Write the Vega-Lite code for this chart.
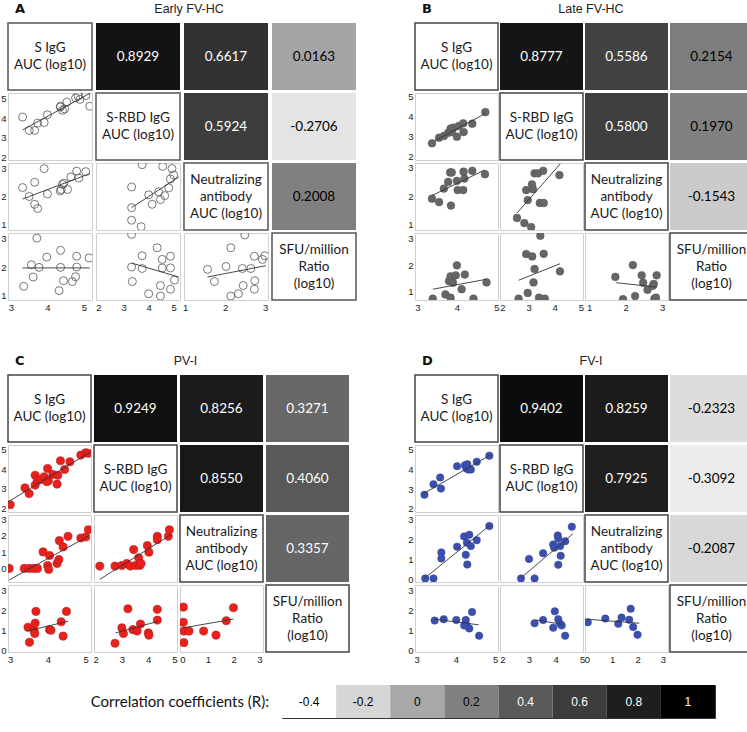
{
"$schema":"https://vega.github.io/schema/vega-lite/v6.json",
"background":"white",
"padding":{"left":0,"top":2,"right":0,"bottom":0},
"config":{"view":{"stroke":"#cfcfcf","strokeWidth":1},"axis":{"grid":false,"domain":false,"ticks":false,"labelFont":"Liberation Sans","labelFontSize":9.5,"labelColor":"#222","labelPadding":2,"labelFlush":false,"labelOverlap":false,"format":".0f"},"text":{"font":"Lato"}},
"datasets":{
"A21":[{"x":3.32,"y":4.06},{"x":3.5,"y":3.37},{"x":3.65,"y":3.37},{"x":3.73,"y":3.75},{"x":3.91,"y":3.78},{"x":4.0,"y":4.18},{"x":4.35,"y":4.58},{"x":4.41,"y":4.41},{"x":4.47,"y":4.48},{"x":4.53,"y":4.83},{"x":4.36,"y":4.62},{"x":4.77,"y":5.05},{"x":4.84,"y":5.14},{"x":4.89,"y":4.97},{"x":5.05,"y":5.17},{"x":5.16,"y":4.62}],
"A31":[{"x":3.32,"y":2.32},{"x":3.5,"y":2.0},{"x":3.65,"y":2.51},{"x":3.65,"y":1.72},{"x":3.73,"y":1.57},{"x":3.91,"y":3.0},{"x":4.0,"y":2.09},{"x":4.35,"y":2.2},{"x":4.38,"y":2.25},{"x":4.41,"y":2.43},{"x":4.55,"y":2.25},{"x":4.45,"y":2.48},{"x":4.64,"y":2.7},{"x":4.8,"y":2.91},{"x":4.86,"y":2.66},{"x":5.05,"y":2.89}],
"A41":[{"x":3.35,"y":1.32},{"x":3.56,"y":2.08},{"x":3.61,"y":1.65},{"x":3.71,"y":3.02},{"x":3.77,"y":1.99},{"x":3.98,"y":2.35},{"x":4.36,"y":2.59},{"x":4.36,"y":1.99},{"x":4.32,"y":1.17},{"x":4.44,"y":1.52},{"x":4.68,"y":1.49},{"x":4.77,"y":1.66},{"x":4.8,"y":2.38},{"x":4.8,"y":2.0},{"x":5.14,"y":2.32}],
"A32":[{"x":3.32,"y":2.34},{"x":3.32,"y":1.6},{"x":3.32,"y":1.15},{"x":3.7,"y":0.92},{"x":3.74,"y":3.14},{"x":4.0,"y":2.06},{"x":4.14,"y":1.72},{"x":4.4,"y":2.17},{"x":4.47,"y":1.89},{"x":4.64,"y":2.03},{"x":4.56,"y":3.08},{"x":4.8,"y":2.31},{"x":4.87,"y":2.63},{"x":4.93,"y":3.0},{"x":5.0,"y":2.77}],
"A42":[{"x":3.32,"y":3.15},{"x":3.32,"y":2.0},{"x":3.35,"y":1.49},{"x":3.74,"y":2.4},{"x":3.74,"y":1.95},{"x":4.0,"y":1.06},{"x":4.34,"y":2.68},{"x":4.54,"y":2.27},{"x":4.54,"y":1.97},{"x":4.47,"y":1.35},{"x":4.47,"y":0.98},{"x":4.87,"y":2.38},{"x":4.87,"y":1.97},{"x":4.87,"y":1.22},{"x":5.03,"y":1.54}],
"A43":[{"x":1.56,"y":1.92},{"x":1.73,"y":1.49},{"x":2.02,"y":2.02},{"x":2.14,"y":2.68},{"x":2.14,"y":0.98},{"x":2.33,"y":1.06},{"x":2.45,"y":1.35},{"x":2.49,"y":3.13},{"x":2.43,"y":1.95},{"x":2.64,"y":1.95},{"x":2.73,"y":2.38},{"x":2.74,"y":1.52},{"x":2.73,"y":1.22},{"x":2.93,"y":2.27},{"x":2.99,"y":2.4}],
"B21":[{"x":3.37,"y":2.65},{"x":3.55,"y":2.93},{"x":3.67,"y":3.02},{"x":3.78,"y":3.18},{"x":3.84,"y":3.39},{"x":3.87,"y":3.22},{"x":3.91,"y":3.44},{"x":4.0,"y":2.98},{"x":4.04,"y":3.52},{"x":4.16,"y":3.66},{"x":4.17,"y":3.22},{"x":4.39,"y":3.64},{"x":4.72,"y":4.23}],
"B31":[{"x":3.37,"y":1.91},{"x":3.55,"y":1.79},{"x":3.67,"y":2.26},{"x":3.78,"y":2.49},{"x":3.83,"y":2.82},{"x":3.87,"y":2.82},{"x":3.85,"y":1.67},{"x":4.0,"y":2.53},{"x":4.02,"y":2.21},{"x":4.16,"y":2.21},{"x":4.17,"y":2.85},{"x":4.19,"y":2.61},{"x":4.39,"y":2.88},{"x":4.71,"y":2.76}],
"B32":[{"x":2.56,"y":1.24},{"x":2.84,"y":1.06},{"x":2.91,"y":2.21},{"x":2.97,"y":1.86},{"x":3.1,"y":0.92},{"x":3.13,"y":2.41},{"x":3.17,"y":2.24},{"x":3.23,"y":2.79},{"x":3.36,"y":2.79},{"x":3.56,"y":2.88},{"x":3.43,"y":1.76},{"x":3.58,"y":1.76},{"x":4.18,"y":2.73}],
"B41":[{"x":3.39,"y":0.72},{"x":3.71,"y":0.88},{"x":3.84,"y":0.76},{"x":3.8,"y":1.39},{"x":3.84,"y":1.57},{"x":3.97,"y":1.61},{"x":3.9,"y":1.33},{"x":4.0,"y":1.99},{"x":4.2,"y":1.64},{"x":4.12,"y":1.08},{"x":4.42,"y":0.72},{"x":4.75,"y":1.34}],
"B42":[{"x":2.62,"y":0.72},{"x":2.97,"y":0.94},{"x":2.91,"y":2.42},{"x":3.14,"y":2.33},{"x":3.45,"y":3.12},{"x":3.19,"y":1.34},{"x":3.23,"y":1.85},{"x":3.4,"y":0.76},{"x":3.62,"y":0.72},{"x":3.58,"y":2.43},{"x":4.2,"y":1.76}],
"B43":[{"x":1.72,"y":1.55},{"x":1.93,"y":0.7},{"x":2.2,"y":2.0},{"x":2.26,"y":0.82},{"x":2.44,"y":1.61},{"x":2.48,"y":1.33},{"x":2.6,"y":1.06},{"x":2.77,"y":1.28},{"x":2.79,"y":0.72},{"x":2.85,"y":1.61},{"x":2.83,"y":0.76},{"x":2.74,"y":1.21}],
"C21":[{"x":3.0,"y":2.2},{"x":3.39,"y":3.05},{"x":3.5,"y":2.76},{"x":3.66,"y":3.69},{"x":3.66,"y":3.19},{"x":3.72,"y":3.44},{"x":3.81,"y":3.47},{"x":3.9,"y":3.61},{"x":3.99,"y":4.03},{"x":4.01,"y":3.41},{"x":3.97,"y":3.36},{"x":4.13,"y":3.73},{"x":4.26,"y":3.69},{"x":4.24,"y":3.24},{"x":4.33,"y":4.42},{"x":4.44,"y":3.98},{"x":4.58,"y":4.37},{"x":4.87,"y":4.71},{"x":5.0,"y":4.83},{"x":5.07,"y":4.8}],
"C31":[{"x":2.97,"y":0.02},{"x":3.37,"y":0.02},{"x":3.5,"y":0.02},{"x":3.62,"y":0.02},{"x":3.72,"y":0.02},{"x":3.87,"y":1.02},{"x":3.99,"y":0.2},{"x":4.04,"y":0.8},{"x":4.02,"y":-0.04},{"x":4.24,"y":0.32},{"x":4.29,"y":0.56},{"x":4.3,"y":1.7},{"x":4.4,"y":1.32},{"x":4.53,"y":1.96},{"x":4.87,"y":1.86},{"x":5.0,"y":1.92},{"x":5.07,"y":2.36}],
"C32":[{"x":2.16,"y":0.16},{"x":2.74,"y":0.16},{"x":3.0,"y":0.2},{"x":3.19,"y":0.32},{"x":3.32,"y":0.16},{"x":3.45,"y":1.16},{"x":3.52,"y":0.2},{"x":3.64,"y":0.66},{"x":3.68,"y":0.2},{"x":3.73,"y":0.32},{"x":3.97,"y":1.4},{"x":4.03,"y":1.0},{"x":4.35,"y":1.96},{"x":4.35,"y":1.76},{"x":4.77,"y":1.96},{"x":4.81,"y":2.36}],
"C41":[{"x":3.47,"y":1.17},{"x":3.51,"y":0.43},{"x":3.63,"y":1.02},{"x":3.66,"y":1.37},{"x":3.68,"y":1.95},{"x":3.65,"y":0.86},{"x":4.04,"y":1.05},{"x":4.08,"y":1.02},{"x":4.35,"y":1.44},{"x":4.4,"y":0.73},{"x":4.49,"y":1.95}],
"C42":[{"x":2.74,"y":0.38},{"x":3.0,"y":1.14},{"x":3.06,"y":0.86},{"x":3.23,"y":2.08},{"x":3.42,"y":1.05},{"x":3.58,"y":0.98},{"x":3.71,"y":1.33},{"x":4.01,"y":0.89},{"x":4.03,"y":0.78},{"x":4.35,"y":1.52},{"x":4.35,"y":2.05}],
"C43":[{"x":0.04,"y":2.16},{"x":0.04,"y":1.41},{"x":0.06,"y":0.98},{"x":0.06,"y":0.41},{"x":0.26,"y":0.98},{"x":0.83,"y":0.98},{"x":1.31,"y":0.78},{"x":1.71,"y":1.49},{"x":1.99,"y":2.13}],
"D21":[{"x":3.2,"y":2.71},{"x":3.43,"y":3.24},{"x":3.6,"y":3.58},{"x":3.62,"y":3.02},{"x":4.03,"y":4.15},{"x":4.23,"y":4.2},{"x":4.27,"y":4.03},{"x":4.32,"y":3.98},{"x":4.38,"y":3.98},{"x":4.29,"y":4.25},{"x":4.53,"y":4.37},{"x":4.85,"y":4.68}],
"D31":[{"x":3.22,"y":0.03},{"x":3.43,"y":0.03},{"x":3.63,"y":1.34},{"x":3.63,"y":1.04},{"x":4.03,"y":1.63},{"x":4.21,"y":2.15},{"x":4.25,"y":1.22},{"x":4.29,"y":0.73},{"x":4.34,"y":2.23},{"x":4.28,"y":1.83},{"x":4.38,"y":1.66},{"x":4.53,"y":1.96},{"x":4.85,"y":2.67}],
"D32":[{"x":2.7,"y":0.03},{"x":3.0,"y":1.01},{"x":3.21,"y":0.03},{"x":3.53,"y":1.3},{"x":3.91,"y":1.74},{"x":3.95,"y":1.58},{"x":4.08,"y":2.2},{"x":4.1,"y":2.04},{"x":4.17,"y":1.66},{"x":4.19,"y":1.17},{"x":4.1,"y":0.72},{"x":4.36,"y":1.91},{"x":4.61,"y":2.64}],
"D41":[{"x":3.46,"y":1.48},{"x":3.69,"y":1.55},{"x":4.01,"y":1.51},{"x":4.25,"y":1.51},{"x":4.27,"y":1.24},{"x":4.34,"y":1.09},{"x":4.41,"y":1.91},{"x":4.59,"y":0.73},{"x":4.21,"y":1.24}],
"D42":[{"x":3.21,"y":1.35},{"x":3.53,"y":1.51},{"x":3.91,"y":1.13},{"x":3.97,"y":1.94},{"x":4.1,"y":1.55},{"x":4.17,"y":1.32},{"x":4.23,"y":1.24},{"x":4.36,"y":0.73}],
"D43":[{"x":0.04,"y":1.4},{"x":0.73,"y":1.58},{"x":1.24,"y":1.32},{"x":1.37,"y":1.63},{"x":1.67,"y":1.52},{"x":1.73,"y":2.07},{"x":1.83,"y":1.16},{"x":2.0,"y":0.78}],
"fits":[
{"c":"A21","x":3.32,"y":3.4,"x2":5.16,"y2":5.28},{"c":"A31","x":3.32,"y":1.91,"x2":5.16,"y2":2.82},{"c":"A41","x":3.32,"y":1.97,"x2":5.16,"y2":1.97},{"c":"A32","x":3.32,"y":1.6,"x2":5.2,"y2":2.7},{"c":"A42","x":3.32,"y":2.14,"x2":5.2,"y2":1.65},{"c":"A43","x":1.56,"y":1.65,"x2":3.02,"y2":2.05},
{"c":"B21","x":3.43,"y":2.76,"x2":4.72,"y2":4.16},{"c":"B31","x":3.37,"y":2.02,"x2":4.71,"y2":2.91},{"c":"B32","x":2.56,"y":1.41,"x2":4.21,"y2":3.12},{"c":"B41","x":3.39,"y":1.08,"x2":4.75,"y2":1.46},{"c":"B42","x":2.62,"y":1.42,"x2":4.2,"y2":2.05},{"c":"B43","x":1.74,"y":1.33,"x2":2.85,"y2":1.16},
{"c":"C21","x":2.94,"y":2.34,"x2":5.14,"y2":4.88},{"c":"C31","x":2.97,"y":-0.68,"x2":5.09,"y2":2.0},{"c":"C32","x":2.16,"y":-0.64,"x2":4.87,"y2":2.06},{"c":"C41","x":3.43,"y":0.98,"x2":4.53,"y2":1.46},{"c":"C42","x":2.76,"y":0.89,"x2":4.38,"y2":1.46},{"c":"C43","x":0.04,"y":1.14,"x2":1.99,"y2":1.57},
{"c":"D21","x":3.17,"y":2.76,"x2":4.87,"y2":4.71},{"c":"D31","x":3.2,"y":0.03,"x2":4.87,"y2":2.72},{"c":"D32","x":2.7,"y":0.06,"x2":4.65,"y2":2.28},{"c":"D41","x":3.46,"y":1.55,"x2":4.58,"y2":1.27},{"c":"D42","x":3.27,"y":1.51,"x2":4.29,"y2":1.29},{"c":"D43","x":0,"y":1.55,"x2":2.07,"y2":1.35}
]
},
"vconcat":[
{"vconcat":[
{"hconcat":[
{"vconcat":[
{"width":355,"height":14,"view":{"stroke":null},"data":{"values":[{"p":0.02,"q":1,"t":"A","w":"L"},{"p":0.51,"q":1,"t":"Early FV-HC","w":"T"}]},"encoding":{"x":{"field":"p","type":"quantitative","scale":{"domain":[0,1]},"axis":null},"y":{"field":"q","type":"quantitative","scale":{"domain":[0,2]},"axis":null},"text":{"field":"t"}},"layer":[{"transform":[{"filter":"datum.w=='L'"}],"mark":{"type":"text","align":"left","baseline":"middle","font":"DejaVu Sans","fontWeight":"bold","fontSize":13,"color":"#111"}},{"transform":[{"filter":"datum.w=='T'"}],"mark":{"type":"text","align":"center","baseline":"middle","font":"Liberation Sans","fontSize":12.5,"color":"#222"}}]},
{"columns":4,"bounds":"flush","spacing":{"row":3,"column":4},"concat":[
{"width":84,"height":67,"view":{"stroke":"#555","strokeWidth":1.5},"data":{"values":[{"k":"a","t":"S IgG|AUC (log10)"}]},"mark":{"type":"text","lineBreak":"|","lineHeight":17,"fontSize":13.5,"color":"#1a1a1a","baseline":"middle","dy":-8.5},"encoding":{"x":{"field":"k","type":"nominal","axis":null},"y":{"field":"k","type":"nominal","axis":null},"text":{"field":"t"}}},
{"width":84,"height":67,"view":{"stroke":null},"data":{"values":[{"k":"a","r":0.8929,"t":"0.8929"}]},"encoding":{"x":{"field":"k","type":"nominal","axis":null,"scale":{"paddingInner":0,"paddingOuter":0}},"y":{"field":"k","type":"nominal","axis":null,"scale":{"paddingInner":0,"paddingOuter":0}}},"layer":[{"mark":"rect","encoding":{"color":{"field":"r","type":"quantitative","legend":null,"scale":{"type":"linear","domain":[-0.4,-0.2,0,0.2,0.4,0.6,0.8,1],"range":["#ffffff","#d6d6d6","#a8a8a8","#808080","#5a5a5a","#3c3c3c","#1e1e1e","#000000"]}}}},{"mark":{"type":"text","fontSize":13.5},"encoding":{"text":{"field":"t"},"color":{"condition":{"test":"datum.r > 0.3","value":"#ffffff"},"value":"#000000"}}}]},
{"width":84,"height":67,"view":{"stroke":null},"data":{"values":[{"k":"a","r":0.6617,"t":"0.6617"}]},"encoding":{"x":{"field":"k","type":"nominal","axis":null,"scale":{"paddingInner":0,"paddingOuter":0}},"y":{"field":"k","type":"nominal","axis":null,"scale":{"paddingInner":0,"paddingOuter":0}}},"layer":[{"mark":"rect","encoding":{"color":{"field":"r","type":"quantitative","legend":null,"scale":{"type":"linear","domain":[-0.4,-0.2,0,0.2,0.4,0.6,0.8,1],"range":["#ffffff","#d6d6d6","#a8a8a8","#808080","#5a5a5a","#3c3c3c","#1e1e1e","#000000"]}}}},{"mark":{"type":"text","fontSize":13.5},"encoding":{"text":{"field":"t"},"color":{"condition":{"test":"datum.r > 0.3","value":"#ffffff"},"value":"#000000"}}}]},
{"width":84,"height":67,"view":{"stroke":null},"data":{"values":[{"k":"a","r":0.0163,"t":"0.0163"}]},"encoding":{"x":{"field":"k","type":"nominal","axis":null,"scale":{"paddingInner":0,"paddingOuter":0}},"y":{"field":"k","type":"nominal","axis":null,"scale":{"paddingInner":0,"paddingOuter":0}}},"layer":[{"mark":"rect","encoding":{"color":{"field":"r","type":"quantitative","legend":null,"scale":{"type":"linear","domain":[-0.4,-0.2,0,0.2,0.4,0.6,0.8,1],"range":["#ffffff","#d6d6d6","#a8a8a8","#808080","#5a5a5a","#3c3c3c","#1e1e1e","#000000"]}}}},{"mark":{"type":"text","fontSize":13.5},"encoding":{"text":{"field":"t"},"color":{"condition":{"test":"datum.r > 0.3","value":"#ffffff"},"value":"#000000"}}}]},
{"width":84,"height":67,"data":{"name":"A21"},"encoding":{"x":{"field":"x","type":"quantitative","title":null,"scale":{"domain":[2.92,5.22],"nice":false,"zero":false},"axis":null},"y":{"field":"y","type":"quantitative","title":null,"scale":{"domain":[1.85,5.3],"nice":false,"zero":false},"axis":{"values":[2,3,4,5],"format":".0f"}}},"layer":[{"mark":{"type":"point","clip":true,"filled":false,"color":"#555","strokeWidth":0.8,"size":64,"opacity":1}},{"data":{"name":"fits"},"transform":[{"filter":"datum.c=='A21'"}],"mark":{"type":"rule","clip":true,"color":"#333","strokeWidth":0.9},"encoding":{"x2":{"field":"x2","title":null},"y2":{"field":"y2","title":null}}}]},
{"width":84,"height":67,"view":{"stroke":"#555","strokeWidth":1.5},"data":{"values":[{"k":"a","t":"S-RBD IgG|AUC (log10)"}]},"mark":{"type":"text","lineBreak":"|","lineHeight":17,"fontSize":13.5,"color":"#1a1a1a","baseline":"middle","dy":-8.5},"encoding":{"x":{"field":"k","type":"nominal","axis":null},"y":{"field":"k","type":"nominal","axis":null},"text":{"field":"t"}}},
{"width":84,"height":67,"view":{"stroke":null},"data":{"values":[{"k":"a","r":0.5924,"t":"0.5924"}]},"encoding":{"x":{"field":"k","type":"nominal","axis":null,"scale":{"paddingInner":0,"paddingOuter":0}},"y":{"field":"k","type":"nominal","axis":null,"scale":{"paddingInner":0,"paddingOuter":0}}},"layer":[{"mark":"rect","encoding":{"color":{"field":"r","type":"quantitative","legend":null,"scale":{"type":"linear","domain":[-0.4,-0.2,0,0.2,0.4,0.6,0.8,1],"range":["#ffffff","#d6d6d6","#a8a8a8","#808080","#5a5a5a","#3c3c3c","#1e1e1e","#000000"]}}}},{"mark":{"type":"text","fontSize":13.5},"encoding":{"text":{"field":"t"},"color":{"condition":{"test":"datum.r > 0.3","value":"#ffffff"},"value":"#000000"}}}]},
{"width":84,"height":67,"view":{"stroke":null},"data":{"values":[{"k":"a","r":-0.2706,"t":"-0.2706"}]},"encoding":{"x":{"field":"k","type":"nominal","axis":null,"scale":{"paddingInner":0,"paddingOuter":0}},"y":{"field":"k","type":"nominal","axis":null,"scale":{"paddingInner":0,"paddingOuter":0}}},"layer":[{"mark":"rect","encoding":{"color":{"field":"r","type":"quantitative","legend":null,"scale":{"type":"linear","domain":[-0.4,-0.2,0,0.2,0.4,0.6,0.8,1],"range":["#ffffff","#d6d6d6","#a8a8a8","#808080","#5a5a5a","#3c3c3c","#1e1e1e","#000000"]}}}},{"mark":{"type":"text","fontSize":13.5},"encoding":{"text":{"field":"t"},"color":{"condition":{"test":"datum.r > 0.3","value":"#ffffff"},"value":"#000000"}}}]},
{"width":84,"height":67,"data":{"name":"A31"},"encoding":{"x":{"field":"x","type":"quantitative","title":null,"scale":{"domain":[2.92,5.22],"nice":false,"zero":false},"axis":null},"y":{"field":"y","type":"quantitative","title":null,"scale":{"domain":[0.8,3.2],"nice":false,"zero":false},"axis":{"values":[1,2,3],"format":".0f"}}},"layer":[{"mark":{"type":"point","clip":true,"filled":false,"color":"#555","strokeWidth":0.8,"size":64,"opacity":1}},{"data":{"name":"fits"},"transform":[{"filter":"datum.c=='A31'"}],"mark":{"type":"rule","clip":true,"color":"#333","strokeWidth":0.9},"encoding":{"x2":{"field":"x2","title":null},"y2":{"field":"y2","title":null}}}]},
{"width":84,"height":67,"data":{"name":"A32"},"encoding":{"x":{"field":"x","type":"quantitative","title":null,"scale":{"domain":[1.9,5.25],"nice":false,"zero":false},"axis":null},"y":{"field":"y","type":"quantitative","title":null,"scale":{"domain":[0.8,3.2],"nice":false,"zero":false},"axis":null}},"layer":[{"mark":{"type":"point","clip":true,"filled":false,"color":"#555","strokeWidth":0.8,"size":64,"opacity":1}},{"data":{"name":"fits"},"transform":[{"filter":"datum.c=='A32'"}],"mark":{"type":"rule","clip":true,"color":"#333","strokeWidth":0.9},"encoding":{"x2":{"field":"x2","title":null},"y2":{"field":"y2","title":null}}}]},
{"width":84,"height":67,"view":{"stroke":"#555","strokeWidth":1.5},"data":{"values":[{"k":"a","t":"Neutralizing|antibody|AUC (log10)"}]},"mark":{"type":"text","lineBreak":"|","lineHeight":17,"fontSize":13.5,"color":"#1a1a1a","baseline":"middle","dy":-17},"encoding":{"x":{"field":"k","type":"nominal","axis":null},"y":{"field":"k","type":"nominal","axis":null},"text":{"field":"t"}}},
{"width":84,"height":67,"view":{"stroke":null},"data":{"values":[{"k":"a","r":0.2008,"t":"0.2008"}]},"encoding":{"x":{"field":"k","type":"nominal","axis":null,"scale":{"paddingInner":0,"paddingOuter":0}},"y":{"field":"k","type":"nominal","axis":null,"scale":{"paddingInner":0,"paddingOuter":0}}},"layer":[{"mark":"rect","encoding":{"color":{"field":"r","type":"quantitative","legend":null,"scale":{"type":"linear","domain":[-0.4,-0.2,0,0.2,0.4,0.6,0.8,1],"range":["#ffffff","#d6d6d6","#a8a8a8","#808080","#5a5a5a","#3c3c3c","#1e1e1e","#000000"]}}}},{"mark":{"type":"text","fontSize":13.5},"encoding":{"text":{"field":"t"},"color":{"condition":{"test":"datum.r > 0.3","value":"#ffffff"},"value":"#000000"}}}]},
{"width":84,"height":67,"data":{"name":"A41"},"encoding":{"x":{"field":"x","type":"quantitative","title":null,"scale":{"domain":[2.92,5.22],"nice":false,"zero":false},"axis":{"values":[3,4,5],"format":".0f"}},"y":{"field":"y","type":"quantitative","title":null,"scale":{"domain":[0.84,3.2],"nice":false,"zero":false},"axis":{"values":[1,2,3],"format":".0f"}}},"layer":[{"mark":{"type":"point","clip":true,"filled":false,"color":"#555","strokeWidth":0.8,"size":64,"opacity":1}},{"data":{"name":"fits"},"transform":[{"filter":"datum.c=='A41'"}],"mark":{"type":"rule","clip":true,"color":"#333","strokeWidth":0.9},"encoding":{"x2":{"field":"x2","title":null},"y2":{"field":"y2","title":null}}}]},
{"width":84,"height":67,"data":{"name":"A42"},"encoding":{"x":{"field":"x","type":"quantitative","title":null,"scale":{"domain":[1.9,5.25],"nice":false,"zero":false},"axis":{"values":[2,3,4,5],"format":".0f"}},"y":{"field":"y","type":"quantitative","title":null,"scale":{"domain":[0.84,3.2],"nice":false,"zero":false},"axis":null}},"layer":[{"mark":{"type":"point","clip":true,"filled":false,"color":"#555","strokeWidth":0.8,"size":64,"opacity":1}},{"data":{"name":"fits"},"transform":[{"filter":"datum.c=='A42'"}],"mark":{"type":"rule","clip":true,"color":"#333","strokeWidth":0.9},"encoding":{"x2":{"field":"x2","title":null},"y2":{"field":"y2","title":null}}}]},
{"width":84,"height":67,"data":{"name":"A43"},"encoding":{"x":{"field":"x","type":"quantitative","title":null,"scale":{"domain":[0.97,3.07],"nice":false,"zero":false},"axis":{"values":[1,2,3],"format":".0f"}},"y":{"field":"y","type":"quantitative","title":null,"scale":{"domain":[0.84,3.2],"nice":false,"zero":false},"axis":null}},"layer":[{"mark":{"type":"point","clip":true,"filled":false,"color":"#555","strokeWidth":0.8,"size":64,"opacity":1}},{"data":{"name":"fits"},"transform":[{"filter":"datum.c=='A43'"}],"mark":{"type":"rule","clip":true,"color":"#333","strokeWidth":0.9},"encoding":{"x2":{"field":"x2","title":null},"y2":{"field":"y2","title":null}}}]},
{"width":84,"height":67,"view":{"stroke":"#555","strokeWidth":1.5},"data":{"values":[{"k":"a","t":"SFU/million|Ratio|(log10)"}]},"mark":{"type":"text","lineBreak":"|","lineHeight":17,"fontSize":13.5,"color":"#1a1a1a","baseline":"middle","dy":-17},"encoding":{"x":{"field":"k","type":"nominal","axis":null},"y":{"field":"k","type":"nominal","axis":null},"text":{"field":"t"}}}
]}
],"spacing":6},
{"vconcat":[
{"width":345,"height":14,"view":{"stroke":null},"data":{"values":[{"p":0.02,"q":1,"t":"B","w":"L"},{"p":0.51,"q":1,"t":"Late FV-HC","w":"T"}]},"encoding":{"x":{"field":"p","type":"quantitative","scale":{"domain":[0,1]},"axis":null},"y":{"field":"q","type":"quantitative","scale":{"domain":[0,2]},"axis":null},"text":{"field":"t"}},"layer":[{"transform":[{"filter":"datum.w=='L'"}],"mark":{"type":"text","align":"left","baseline":"middle","font":"DejaVu Sans","fontWeight":"bold","fontSize":13,"color":"#111"}},{"transform":[{"filter":"datum.w=='T'"}],"mark":{"type":"text","align":"center","baseline":"middle","font":"Liberation Sans","fontSize":12.5,"color":"#222"}}]},
{"columns":4,"bounds":"flush","spacing":{"row":3,"column":2},"concat":[
{"width":83,"height":67,"view":{"stroke":"#444","strokeWidth":1.5},"data":{"values":[{"k":"a","t":"S IgG|AUC (log10)"}]},"mark":{"type":"text","lineBreak":"|","lineHeight":17,"fontSize":13.5,"color":"#1a1a1a","baseline":"middle","dy":-8.5},"encoding":{"x":{"field":"k","type":"nominal","axis":null},"y":{"field":"k","type":"nominal","axis":null},"text":{"field":"t"}}},
{"width":83,"height":67,"view":{"stroke":null},"data":{"values":[{"k":"a","r":0.8777,"t":"0.8777"}]},"encoding":{"x":{"field":"k","type":"nominal","axis":null,"scale":{"paddingInner":0,"paddingOuter":0}},"y":{"field":"k","type":"nominal","axis":null,"scale":{"paddingInner":0,"paddingOuter":0}}},"layer":[{"mark":"rect","encoding":{"color":{"field":"r","type":"quantitative","legend":null,"scale":{"type":"linear","domain":[-0.4,-0.2,0,0.2,0.4,0.6,0.8,1],"range":["#ffffff","#d6d6d6","#a8a8a8","#808080","#5a5a5a","#3c3c3c","#1e1e1e","#000000"]}}}},{"mark":{"type":"text","fontSize":13.5},"encoding":{"text":{"field":"t"},"color":{"condition":{"test":"datum.r > 0.3","value":"#ffffff"},"value":"#000000"}}}]},
{"width":83,"height":67,"view":{"stroke":null},"data":{"values":[{"k":"a","r":0.5586,"t":"0.5586"}]},"encoding":{"x":{"field":"k","type":"nominal","axis":null,"scale":{"paddingInner":0,"paddingOuter":0}},"y":{"field":"k","type":"nominal","axis":null,"scale":{"paddingInner":0,"paddingOuter":0}}},"layer":[{"mark":"rect","encoding":{"color":{"field":"r","type":"quantitative","legend":null,"scale":{"type":"linear","domain":[-0.4,-0.2,0,0.2,0.4,0.6,0.8,1],"range":["#ffffff","#d6d6d6","#a8a8a8","#808080","#5a5a5a","#3c3c3c","#1e1e1e","#000000"]}}}},{"mark":{"type":"text","fontSize":13.5},"encoding":{"text":{"field":"t"},"color":{"condition":{"test":"datum.r > 0.3","value":"#ffffff"},"value":"#000000"}}}]},
{"width":83,"height":67,"view":{"stroke":null},"data":{"values":[{"k":"a","r":0.2154,"t":"0.2154"}]},"encoding":{"x":{"field":"k","type":"nominal","axis":null,"scale":{"paddingInner":0,"paddingOuter":0}},"y":{"field":"k","type":"nominal","axis":null,"scale":{"paddingInner":0,"paddingOuter":0}}},"layer":[{"mark":"rect","encoding":{"color":{"field":"r","type":"quantitative","legend":null,"scale":{"type":"linear","domain":[-0.4,-0.2,0,0.2,0.4,0.6,0.8,1],"range":["#ffffff","#d6d6d6","#a8a8a8","#808080","#5a5a5a","#3c3c3c","#1e1e1e","#000000"]}}}},{"mark":{"type":"text","fontSize":13.5},"encoding":{"text":{"field":"t"},"color":{"condition":{"test":"datum.r > 0.3","value":"#ffffff"},"value":"#000000"}}}]},
{"width":83,"height":67,"data":{"name":"B21"},"encoding":{"x":{"field":"x","type":"quantitative","title":null,"scale":{"domain":[2.94,5.04],"nice":false,"zero":false},"axis":null},"y":{"field":"y","type":"quantitative","title":null,"scale":{"domain":[1.8,5.2],"nice":false,"zero":false},"axis":{"values":[2,3,4,5],"format":".0f"}}},"layer":[{"mark":{"type":"point","clip":true,"filled":true,"color":"#666","stroke":"#555","strokeWidth":0.5,"size":60,"opacity":1}},{"data":{"name":"fits"},"transform":[{"filter":"datum.c=='B21'"}],"mark":{"type":"rule","clip":true,"color":"#333","strokeWidth":0.9},"encoding":{"x2":{"field":"x2","title":null},"y2":{"field":"y2","title":null}}}]},
{"width":83,"height":67,"view":{"stroke":"#444","strokeWidth":1.5},"data":{"values":[{"k":"a","t":"S-RBD IgG|AUC (log10)"}]},"mark":{"type":"text","lineBreak":"|","lineHeight":17,"fontSize":13.5,"color":"#1a1a1a","baseline":"middle","dy":-8.5},"encoding":{"x":{"field":"k","type":"nominal","axis":null},"y":{"field":"k","type":"nominal","axis":null},"text":{"field":"t"}}},
{"width":83,"height":67,"view":{"stroke":null},"data":{"values":[{"k":"a","r":0.58,"t":"0.5800"}]},"encoding":{"x":{"field":"k","type":"nominal","axis":null,"scale":{"paddingInner":0,"paddingOuter":0}},"y":{"field":"k","type":"nominal","axis":null,"scale":{"paddingInner":0,"paddingOuter":0}}},"layer":[{"mark":"rect","encoding":{"color":{"field":"r","type":"quantitative","legend":null,"scale":{"type":"linear","domain":[-0.4,-0.2,0,0.2,0.4,0.6,0.8,1],"range":["#ffffff","#d6d6d6","#a8a8a8","#808080","#5a5a5a","#3c3c3c","#1e1e1e","#000000"]}}}},{"mark":{"type":"text","fontSize":13.5},"encoding":{"text":{"field":"t"},"color":{"condition":{"test":"datum.r > 0.3","value":"#ffffff"},"value":"#000000"}}}]},
{"width":83,"height":67,"view":{"stroke":null},"data":{"values":[{"k":"a","r":0.197,"t":"0.1970"}]},"encoding":{"x":{"field":"k","type":"nominal","axis":null,"scale":{"paddingInner":0,"paddingOuter":0}},"y":{"field":"k","type":"nominal","axis":null,"scale":{"paddingInner":0,"paddingOuter":0}}},"layer":[{"mark":"rect","encoding":{"color":{"field":"r","type":"quantitative","legend":null,"scale":{"type":"linear","domain":[-0.4,-0.2,0,0.2,0.4,0.6,0.8,1],"range":["#ffffff","#d6d6d6","#a8a8a8","#808080","#5a5a5a","#3c3c3c","#1e1e1e","#000000"]}}}},{"mark":{"type":"text","fontSize":13.5},"encoding":{"text":{"field":"t"},"color":{"condition":{"test":"datum.r > 0.3","value":"#ffffff"},"value":"#000000"}}}]},
{"width":83,"height":67,"data":{"name":"B31"},"encoding":{"x":{"field":"x","type":"quantitative","title":null,"scale":{"domain":[2.94,5.04],"nice":false,"zero":false},"axis":null},"y":{"field":"y","type":"quantitative","title":null,"scale":{"domain":[0.82,3.15],"nice":false,"zero":false},"axis":{"values":[1,2,3],"format":".0f"}}},"layer":[{"mark":{"type":"point","clip":true,"filled":true,"color":"#666","stroke":"#555","strokeWidth":0.5,"size":60,"opacity":1}},{"data":{"name":"fits"},"transform":[{"filter":"datum.c=='B31'"}],"mark":{"type":"rule","clip":true,"color":"#333","strokeWidth":0.9},"encoding":{"x2":{"field":"x2","title":null},"y2":{"field":"y2","title":null}}}]},
{"width":83,"height":67,"data":{"name":"B32"},"encoding":{"x":{"field":"x","type":"quantitative","title":null,"scale":{"domain":[1.91,5.08],"nice":false,"zero":false},"axis":null},"y":{"field":"y","type":"quantitative","title":null,"scale":{"domain":[0.82,3.15],"nice":false,"zero":false},"axis":null}},"layer":[{"mark":{"type":"point","clip":true,"filled":true,"color":"#666","stroke":"#555","strokeWidth":0.5,"size":60,"opacity":1}},{"data":{"name":"fits"},"transform":[{"filter":"datum.c=='B32'"}],"mark":{"type":"rule","clip":true,"color":"#333","strokeWidth":0.9},"encoding":{"x2":{"field":"x2","title":null},"y2":{"field":"y2","title":null}}}]},
{"width":83,"height":67,"view":{"stroke":"#444","strokeWidth":1.5},"data":{"values":[{"k":"a","t":"Neutralizing|antibody|AUC (log10)"}]},"mark":{"type":"text","lineBreak":"|","lineHeight":17,"fontSize":13.5,"color":"#1a1a1a","baseline":"middle","dy":-17},"encoding":{"x":{"field":"k","type":"nominal","axis":null},"y":{"field":"k","type":"nominal","axis":null},"text":{"field":"t"}}},
{"width":83,"height":67,"view":{"stroke":null},"data":{"values":[{"k":"a","r":-0.1543,"t":"-0.1543"}]},"encoding":{"x":{"field":"k","type":"nominal","axis":null,"scale":{"paddingInner":0,"paddingOuter":0}},"y":{"field":"k","type":"nominal","axis":null,"scale":{"paddingInner":0,"paddingOuter":0}}},"layer":[{"mark":"rect","encoding":{"color":{"field":"r","type":"quantitative","legend":null,"scale":{"type":"linear","domain":[-0.4,-0.2,0,0.2,0.4,0.6,0.8,1],"range":["#ffffff","#d6d6d6","#a8a8a8","#808080","#5a5a5a","#3c3c3c","#1e1e1e","#000000"]}}}},{"mark":{"type":"text","fontSize":13.5},"encoding":{"text":{"field":"t"},"color":{"condition":{"test":"datum.r > 0.3","value":"#ffffff"},"value":"#000000"}}}]},
{"width":83,"height":67,"data":{"name":"B41"},"encoding":{"x":{"field":"x","type":"quantitative","title":null,"scale":{"domain":[2.94,5.04],"nice":false,"zero":false},"axis":{"values":[3,4,5],"format":".0f"}},"y":{"field":"y","type":"quantitative","title":null,"scale":{"domain":[0.67,3.22],"nice":false,"zero":false},"axis":{"values":[1,2,3],"format":".0f"}}},"layer":[{"mark":{"type":"point","clip":true,"filled":true,"color":"#666","stroke":"#555","strokeWidth":0.5,"size":60,"opacity":1}},{"data":{"name":"fits"},"transform":[{"filter":"datum.c=='B41'"}],"mark":{"type":"rule","clip":true,"color":"#333","strokeWidth":0.9},"encoding":{"x2":{"field":"x2","title":null},"y2":{"field":"y2","title":null}}}]},
{"width":83,"height":67,"data":{"name":"B42"},"encoding":{"x":{"field":"x","type":"quantitative","title":null,"scale":{"domain":[1.91,5.08],"nice":false,"zero":false},"axis":{"values":[2,3,4,5],"format":".0f"}},"y":{"field":"y","type":"quantitative","title":null,"scale":{"domain":[0.67,3.22],"nice":false,"zero":false},"axis":null}},"layer":[{"mark":{"type":"point","clip":true,"filled":true,"color":"#666","stroke":"#555","strokeWidth":0.5,"size":60,"opacity":1}},{"data":{"name":"fits"},"transform":[{"filter":"datum.c=='B42'"}],"mark":{"type":"rule","clip":true,"color":"#333","strokeWidth":0.9},"encoding":{"x2":{"field":"x2","title":null},"y2":{"field":"y2","title":null}}}]},
{"width":83,"height":67,"data":{"name":"B43"},"encoding":{"x":{"field":"x","type":"quantitative","title":null,"scale":{"domain":[0.89,3.16],"nice":false,"zero":false},"axis":{"values":[1,2,3],"format":".0f"}},"y":{"field":"y","type":"quantitative","title":null,"scale":{"domain":[0.67,3.22],"nice":false,"zero":false},"axis":null}},"layer":[{"mark":{"type":"point","clip":true,"filled":true,"color":"#666","stroke":"#555","strokeWidth":0.5,"size":60,"opacity":1}},{"data":{"name":"fits"},"transform":[{"filter":"datum.c=='B43'"}],"mark":{"type":"rule","clip":true,"color":"#333","strokeWidth":0.9},"encoding":{"x2":{"field":"x2","title":null},"y2":{"field":"y2","title":null}}}]},
{"width":83,"height":67,"view":{"stroke":"#444","strokeWidth":1.5},"data":{"values":[{"k":"a","t":"SFU/million|Ratio|(log10)"}]},"mark":{"type":"text","lineBreak":"|","lineHeight":17,"fontSize":13.5,"color":"#1a1a1a","baseline":"middle","dy":-17},"encoding":{"x":{"field":"k","type":"nominal","axis":null},"y":{"field":"k","type":"nominal","axis":null},"text":{"field":"t"}}}
]}
],"spacing":6}
],"spacing":44},
{"hconcat":[
{"vconcat":[
{"width":348,"height":14,"view":{"stroke":null},"data":{"values":[{"p":0.02,"q":1,"t":"C","w":"L"},{"p":0.51,"q":1,"t":"PV-I","w":"T"}]},"encoding":{"x":{"field":"p","type":"quantitative","scale":{"domain":[0,1]},"axis":null},"y":{"field":"q","type":"quantitative","scale":{"domain":[0,2]},"axis":null},"text":{"field":"t"}},"layer":[{"transform":[{"filter":"datum.w=='L'"}],"mark":{"type":"text","align":"left","baseline":"middle","font":"DejaVu Sans","fontWeight":"bold","fontSize":13,"color":"#111"}},{"transform":[{"filter":"datum.w=='T'"}],"mark":{"type":"text","align":"center","baseline":"middle","font":"Liberation Sans","fontSize":12.5,"color":"#222"}}]},
{"columns":4,"bounds":"flush","spacing":{"row":3,"column":3},"concat":[
{"width":83,"height":67,"view":{"stroke":"#444","strokeWidth":1.5},"data":{"values":[{"k":"a","t":"S IgG|AUC (log10)"}]},"mark":{"type":"text","lineBreak":"|","lineHeight":17,"fontSize":13.5,"color":"#1a1a1a","baseline":"middle","dy":-8.5},"encoding":{"x":{"field":"k","type":"nominal","axis":null},"y":{"field":"k","type":"nominal","axis":null},"text":{"field":"t"}}},
{"width":83,"height":67,"view":{"stroke":null},"data":{"values":[{"k":"a","r":0.9249,"t":"0.9249"}]},"encoding":{"x":{"field":"k","type":"nominal","axis":null,"scale":{"paddingInner":0,"paddingOuter":0}},"y":{"field":"k","type":"nominal","axis":null,"scale":{"paddingInner":0,"paddingOuter":0}}},"layer":[{"mark":"rect","encoding":{"color":{"field":"r","type":"quantitative","legend":null,"scale":{"type":"linear","domain":[-0.4,-0.2,0,0.2,0.4,0.6,0.8,1],"range":["#ffffff","#d6d6d6","#a8a8a8","#808080","#5a5a5a","#3c3c3c","#1e1e1e","#000000"]}}}},{"mark":{"type":"text","fontSize":13.5},"encoding":{"text":{"field":"t"},"color":{"condition":{"test":"datum.r > 0.3","value":"#ffffff"},"value":"#000000"}}}]},
{"width":83,"height":67,"view":{"stroke":null},"data":{"values":[{"k":"a","r":0.8256,"t":"0.8256"}]},"encoding":{"x":{"field":"k","type":"nominal","axis":null,"scale":{"paddingInner":0,"paddingOuter":0}},"y":{"field":"k","type":"nominal","axis":null,"scale":{"paddingInner":0,"paddingOuter":0}}},"layer":[{"mark":"rect","encoding":{"color":{"field":"r","type":"quantitative","legend":null,"scale":{"type":"linear","domain":[-0.4,-0.2,0,0.2,0.4,0.6,0.8,1],"range":["#ffffff","#d6d6d6","#a8a8a8","#808080","#5a5a5a","#3c3c3c","#1e1e1e","#000000"]}}}},{"mark":{"type":"text","fontSize":13.5},"encoding":{"text":{"field":"t"},"color":{"condition":{"test":"datum.r > 0.3","value":"#ffffff"},"value":"#000000"}}}]},
{"width":83,"height":67,"view":{"stroke":null},"data":{"values":[{"k":"a","r":0.3271,"t":"0.3271"}]},"encoding":{"x":{"field":"k","type":"nominal","axis":null,"scale":{"paddingInner":0,"paddingOuter":0}},"y":{"field":"k","type":"nominal","axis":null,"scale":{"paddingInner":0,"paddingOuter":0}}},"layer":[{"mark":"rect","encoding":{"color":{"field":"r","type":"quantitative","legend":null,"scale":{"type":"linear","domain":[-0.4,-0.2,0,0.2,0.4,0.6,0.8,1],"range":["#ffffff","#d6d6d6","#a8a8a8","#808080","#5a5a5a","#3c3c3c","#1e1e1e","#000000"]}}}},{"mark":{"type":"text","fontSize":13.5},"encoding":{"text":{"field":"t"},"color":{"condition":{"test":"datum.r > 0.3","value":"#ffffff"},"value":"#000000"}}}]},
{"width":83,"height":67,"data":{"name":"C21"},"encoding":{"x":{"field":"x","type":"quantitative","title":null,"scale":{"domain":[2.94,5.14],"nice":false,"zero":false},"axis":null},"y":{"field":"y","type":"quantitative","title":null,"scale":{"domain":[1.83,5.22],"nice":false,"zero":false},"axis":{"values":[2,3,4,5],"format":".0f"}}},"layer":[{"mark":{"type":"point","clip":true,"filled":true,"color":"#e8211d","stroke":"#b3141a","strokeWidth":0.6,"size":66,"opacity":1}},{"data":{"name":"fits"},"transform":[{"filter":"datum.c=='C21'"}],"mark":{"type":"rule","clip":true,"color":"#333","strokeWidth":0.9},"encoding":{"x2":{"field":"x2","title":null},"y2":{"field":"y2","title":null}}}]},
{"width":83,"height":67,"view":{"stroke":"#444","strokeWidth":1.5},"data":{"values":[{"k":"a","t":"S-RBD IgG|AUC (log10)"}]},"mark":{"type":"text","lineBreak":"|","lineHeight":17,"fontSize":13.5,"color":"#1a1a1a","baseline":"middle","dy":-8.5},"encoding":{"x":{"field":"k","type":"nominal","axis":null},"y":{"field":"k","type":"nominal","axis":null},"text":{"field":"t"}}},
{"width":83,"height":67,"view":{"stroke":null},"data":{"values":[{"k":"a","r":0.855,"t":"0.8550"}]},"encoding":{"x":{"field":"k","type":"nominal","axis":null,"scale":{"paddingInner":0,"paddingOuter":0}},"y":{"field":"k","type":"nominal","axis":null,"scale":{"paddingInner":0,"paddingOuter":0}}},"layer":[{"mark":"rect","encoding":{"color":{"field":"r","type":"quantitative","legend":null,"scale":{"type":"linear","domain":[-0.4,-0.2,0,0.2,0.4,0.6,0.8,1],"range":["#ffffff","#d6d6d6","#a8a8a8","#808080","#5a5a5a","#3c3c3c","#1e1e1e","#000000"]}}}},{"mark":{"type":"text","fontSize":13.5},"encoding":{"text":{"field":"t"},"color":{"condition":{"test":"datum.r > 0.3","value":"#ffffff"},"value":"#000000"}}}]},
{"width":83,"height":67,"view":{"stroke":null},"data":{"values":[{"k":"a","r":0.406,"t":"0.4060"}]},"encoding":{"x":{"field":"k","type":"nominal","axis":null,"scale":{"paddingInner":0,"paddingOuter":0}},"y":{"field":"k","type":"nominal","axis":null,"scale":{"paddingInner":0,"paddingOuter":0}}},"layer":[{"mark":"rect","encoding":{"color":{"field":"r","type":"quantitative","legend":null,"scale":{"type":"linear","domain":[-0.4,-0.2,0,0.2,0.4,0.6,0.8,1],"range":["#ffffff","#d6d6d6","#a8a8a8","#808080","#5a5a5a","#3c3c3c","#1e1e1e","#000000"]}}}},{"mark":{"type":"text","fontSize":13.5},"encoding":{"text":{"field":"t"},"color":{"condition":{"test":"datum.r > 0.3","value":"#ffffff"},"value":"#000000"}}}]},
{"width":83,"height":67,"data":{"name":"C31"},"encoding":{"x":{"field":"x","type":"quantitative","title":null,"scale":{"domain":[2.94,5.14],"nice":false,"zero":false},"axis":null},"y":{"field":"y","type":"quantitative","title":null,"scale":{"domain":[-0.8,3.25],"nice":false,"zero":false},"axis":{"values":[0,1,2,3],"format":".0f"}}},"layer":[{"mark":{"type":"point","clip":true,"filled":true,"color":"#e8211d","stroke":"#b3141a","strokeWidth":0.6,"size":66,"opacity":1}},{"data":{"name":"fits"},"transform":[{"filter":"datum.c=='C31'"}],"mark":{"type":"rule","clip":true,"color":"#333","strokeWidth":0.9},"encoding":{"x2":{"field":"x2","title":null},"y2":{"field":"y2","title":null}}}]},
{"width":83,"height":67,"data":{"name":"C32"},"encoding":{"x":{"field":"x","type":"quantitative","title":null,"scale":{"domain":[1.94,5.1],"nice":false,"zero":false},"axis":null},"y":{"field":"y","type":"quantitative","title":null,"scale":{"domain":[-0.8,3.25],"nice":false,"zero":false},"axis":null}},"layer":[{"mark":{"type":"point","clip":true,"filled":true,"color":"#e8211d","stroke":"#b3141a","strokeWidth":0.6,"size":66,"opacity":1}},{"data":{"name":"fits"},"transform":[{"filter":"datum.c=='C32'"}],"mark":{"type":"rule","clip":true,"color":"#333","strokeWidth":0.9},"encoding":{"x2":{"field":"x2","title":null},"y2":{"field":"y2","title":null}}}]},
{"width":83,"height":67,"view":{"stroke":"#444","strokeWidth":1.5},"data":{"values":[{"k":"a","t":"Neutralizing|antibody|AUC (log10)"}]},"mark":{"type":"text","lineBreak":"|","lineHeight":17,"fontSize":13.5,"color":"#1a1a1a","baseline":"middle","dy":-17},"encoding":{"x":{"field":"k","type":"nominal","axis":null},"y":{"field":"k","type":"nominal","axis":null},"text":{"field":"t"}}},
{"width":83,"height":67,"view":{"stroke":null},"data":{"values":[{"k":"a","r":0.3357,"t":"0.3357"}]},"encoding":{"x":{"field":"k","type":"nominal","axis":null,"scale":{"paddingInner":0,"paddingOuter":0}},"y":{"field":"k","type":"nominal","axis":null,"scale":{"paddingInner":0,"paddingOuter":0}}},"layer":[{"mark":"rect","encoding":{"color":{"field":"r","type":"quantitative","legend":null,"scale":{"type":"linear","domain":[-0.4,-0.2,0,0.2,0.4,0.6,0.8,1],"range":["#ffffff","#d6d6d6","#a8a8a8","#808080","#5a5a5a","#3c3c3c","#1e1e1e","#000000"]}}}},{"mark":{"type":"text","fontSize":13.5},"encoding":{"text":{"field":"t"},"color":{"condition":{"test":"datum.r > 0.3","value":"#ffffff"},"value":"#000000"}}}]},
{"width":83,"height":67,"data":{"name":"C41"},"encoding":{"x":{"field":"x","type":"quantitative","title":null,"scale":{"domain":[2.94,5.14],"nice":false,"zero":false},"axis":{"values":[3,4,5],"format":".0f"}},"y":{"field":"y","type":"quantitative","title":null,"scale":{"domain":[-0.05,3.25],"nice":false,"zero":false},"axis":{"values":[0,1,2,3],"format":".0f"}}},"layer":[{"mark":{"type":"point","clip":true,"filled":true,"color":"#e8211d","stroke":"#b3141a","strokeWidth":0.6,"size":66,"opacity":1}},{"data":{"name":"fits"},"transform":[{"filter":"datum.c=='C41'"}],"mark":{"type":"rule","clip":true,"color":"#333","strokeWidth":0.9},"encoding":{"x2":{"field":"x2","title":null},"y2":{"field":"y2","title":null}}}]},
{"width":83,"height":67,"data":{"name":"C42"},"encoding":{"x":{"field":"x","type":"quantitative","title":null,"scale":{"domain":[1.94,5.1],"nice":false,"zero":false},"axis":{"values":[2,3,4,5],"format":".0f"}},"y":{"field":"y","type":"quantitative","title":null,"scale":{"domain":[-0.05,3.25],"nice":false,"zero":false},"axis":null}},"layer":[{"mark":{"type":"point","clip":true,"filled":true,"color":"#e8211d","stroke":"#b3141a","strokeWidth":0.6,"size":66,"opacity":1}},{"data":{"name":"fits"},"transform":[{"filter":"datum.c=='C42'"}],"mark":{"type":"rule","clip":true,"color":"#333","strokeWidth":0.9},"encoding":{"x2":{"field":"x2","title":null},"y2":{"field":"y2","title":null}}}]},
{"width":83,"height":67,"data":{"name":"C43"},"encoding":{"x":{"field":"x","type":"quantitative","title":null,"scale":{"domain":[-0.09,3.14],"nice":false,"zero":false},"axis":{"values":[0,1,2,3],"format":".0f"}},"y":{"field":"y","type":"quantitative","title":null,"scale":{"domain":[-0.05,3.25],"nice":false,"zero":false},"axis":null}},"layer":[{"mark":{"type":"point","clip":true,"filled":true,"color":"#e8211d","stroke":"#b3141a","strokeWidth":0.6,"size":66,"opacity":1}},{"data":{"name":"fits"},"transform":[{"filter":"datum.c=='C43'"}],"mark":{"type":"rule","clip":true,"color":"#333","strokeWidth":0.9},"encoding":{"x2":{"field":"x2","title":null},"y2":{"field":"y2","title":null}}}]},
{"width":83,"height":67,"view":{"stroke":"#444","strokeWidth":1.5},"data":{"values":[{"k":"a","t":"SFU/million|Ratio|(log10)"}]},"mark":{"type":"text","lineBreak":"|","lineHeight":17,"fontSize":13.5,"color":"#1a1a1a","baseline":"middle","dy":-17},"encoding":{"x":{"field":"k","type":"nominal","axis":null},"y":{"field":"k","type":"nominal","axis":null},"text":{"field":"t"}}}
]}
],"spacing":6},
{"vconcat":[
{"width":345,"height":14,"view":{"stroke":null},"data":{"values":[{"p":0.02,"q":1,"t":"D","w":"L"},{"p":0.51,"q":1,"t":"FV-I","w":"T"}]},"encoding":{"x":{"field":"p","type":"quantitative","scale":{"domain":[0,1]},"axis":null},"y":{"field":"q","type":"quantitative","scale":{"domain":[0,2]},"axis":null},"text":{"field":"t"}},"layer":[{"transform":[{"filter":"datum.w=='L'"}],"mark":{"type":"text","align":"left","baseline":"middle","font":"DejaVu Sans","fontWeight":"bold","fontSize":13,"color":"#111"}},{"transform":[{"filter":"datum.w=='T'"}],"mark":{"type":"text","align":"center","baseline":"middle","font":"Liberation Sans","fontSize":12.5,"color":"#222"}}]},
{"columns":4,"bounds":"flush","spacing":{"row":3,"column":2},"concat":[
{"width":83,"height":67,"view":{"stroke":"#444","strokeWidth":1.5},"data":{"values":[{"k":"a","t":"S IgG|AUC (log10)"}]},"mark":{"type":"text","lineBreak":"|","lineHeight":17,"fontSize":13.5,"color":"#1a1a1a","baseline":"middle","dy":-8.5},"encoding":{"x":{"field":"k","type":"nominal","axis":null},"y":{"field":"k","type":"nominal","axis":null},"text":{"field":"t"}}},
{"width":83,"height":67,"view":{"stroke":null},"data":{"values":[{"k":"a","r":0.9402,"t":"0.9402"}]},"encoding":{"x":{"field":"k","type":"nominal","axis":null,"scale":{"paddingInner":0,"paddingOuter":0}},"y":{"field":"k","type":"nominal","axis":null,"scale":{"paddingInner":0,"paddingOuter":0}}},"layer":[{"mark":"rect","encoding":{"color":{"field":"r","type":"quantitative","legend":null,"scale":{"type":"linear","domain":[-0.4,-0.2,0,0.2,0.4,0.6,0.8,1],"range":["#ffffff","#d6d6d6","#a8a8a8","#808080","#5a5a5a","#3c3c3c","#1e1e1e","#000000"]}}}},{"mark":{"type":"text","fontSize":13.5},"encoding":{"text":{"field":"t"},"color":{"condition":{"test":"datum.r > 0.3","value":"#ffffff"},"value":"#000000"}}}]},
{"width":83,"height":67,"view":{"stroke":null},"data":{"values":[{"k":"a","r":0.8259,"t":"0.8259"}]},"encoding":{"x":{"field":"k","type":"nominal","axis":null,"scale":{"paddingInner":0,"paddingOuter":0}},"y":{"field":"k","type":"nominal","axis":null,"scale":{"paddingInner":0,"paddingOuter":0}}},"layer":[{"mark":"rect","encoding":{"color":{"field":"r","type":"quantitative","legend":null,"scale":{"type":"linear","domain":[-0.4,-0.2,0,0.2,0.4,0.6,0.8,1],"range":["#ffffff","#d6d6d6","#a8a8a8","#808080","#5a5a5a","#3c3c3c","#1e1e1e","#000000"]}}}},{"mark":{"type":"text","fontSize":13.5},"encoding":{"text":{"field":"t"},"color":{"condition":{"test":"datum.r > 0.3","value":"#ffffff"},"value":"#000000"}}}]},
{"width":83,"height":67,"view":{"stroke":null},"data":{"values":[{"k":"a","r":-0.2323,"t":"-0.2323"}]},"encoding":{"x":{"field":"k","type":"nominal","axis":null,"scale":{"paddingInner":0,"paddingOuter":0}},"y":{"field":"k","type":"nominal","axis":null,"scale":{"paddingInner":0,"paddingOuter":0}}},"layer":[{"mark":"rect","encoding":{"color":{"field":"r","type":"quantitative","legend":null,"scale":{"type":"linear","domain":[-0.4,-0.2,0,0.2,0.4,0.6,0.8,1],"range":["#ffffff","#d6d6d6","#a8a8a8","#808080","#5a5a5a","#3c3c3c","#1e1e1e","#000000"]}}}},{"mark":{"type":"text","fontSize":13.5},"encoding":{"text":{"field":"t"},"color":{"condition":{"test":"datum.r > 0.3","value":"#ffffff"},"value":"#000000"}}}]},
{"width":83,"height":67,"data":{"name":"D21"},"encoding":{"x":{"field":"x","type":"quantitative","title":null,"scale":{"domain":[2.96,5.07],"nice":false,"zero":false},"axis":null},"y":{"field":"y","type":"quantitative","title":null,"scale":{"domain":[1.84,5.22],"nice":false,"zero":false},"axis":{"values":[2,3,4,5],"format":".0f"}}},"layer":[{"mark":{"type":"point","clip":true,"filled":true,"color":"#3d4fae","stroke":"#33449a","strokeWidth":0.5,"size":56,"opacity":1}},{"data":{"name":"fits"},"transform":[{"filter":"datum.c=='D21'"}],"mark":{"type":"rule","clip":true,"color":"#333","strokeWidth":0.9},"encoding":{"x2":{"field":"x2","title":null},"y2":{"field":"y2","title":null}}}]},
{"width":83,"height":67,"view":{"stroke":"#444","strokeWidth":1.5},"data":{"values":[{"k":"a","t":"S-RBD IgG|AUC (log10)"}]},"mark":{"type":"text","lineBreak":"|","lineHeight":17,"fontSize":13.5,"color":"#1a1a1a","baseline":"middle","dy":-8.5},"encoding":{"x":{"field":"k","type":"nominal","axis":null},"y":{"field":"k","type":"nominal","axis":null},"text":{"field":"t"}}},
{"width":83,"height":67,"view":{"stroke":null},"data":{"values":[{"k":"a","r":0.7925,"t":"0.7925"}]},"encoding":{"x":{"field":"k","type":"nominal","axis":null,"scale":{"paddingInner":0,"paddingOuter":0}},"y":{"field":"k","type":"nominal","axis":null,"scale":{"paddingInner":0,"paddingOuter":0}}},"layer":[{"mark":"rect","encoding":{"color":{"field":"r","type":"quantitative","legend":null,"scale":{"type":"linear","domain":[-0.4,-0.2,0,0.2,0.4,0.6,0.8,1],"range":["#ffffff","#d6d6d6","#a8a8a8","#808080","#5a5a5a","#3c3c3c","#1e1e1e","#000000"]}}}},{"mark":{"type":"text","fontSize":13.5},"encoding":{"text":{"field":"t"},"color":{"condition":{"test":"datum.r > 0.3","value":"#ffffff"},"value":"#000000"}}}]},
{"width":83,"height":67,"view":{"stroke":null},"data":{"values":[{"k":"a","r":-0.3092,"t":"-0.3092"}]},"encoding":{"x":{"field":"k","type":"nominal","axis":null,"scale":{"paddingInner":0,"paddingOuter":0}},"y":{"field":"k","type":"nominal","axis":null,"scale":{"paddingInner":0,"paddingOuter":0}}},"layer":[{"mark":"rect","encoding":{"color":{"field":"r","type":"quantitative","legend":null,"scale":{"type":"linear","domain":[-0.4,-0.2,0,0.2,0.4,0.6,0.8,1],"range":["#ffffff","#d6d6d6","#a8a8a8","#808080","#5a5a5a","#3c3c3c","#1e1e1e","#000000"]}}}},{"mark":{"type":"text","fontSize":13.5},"encoding":{"text":{"field":"t"},"color":{"condition":{"test":"datum.r > 0.3","value":"#ffffff"},"value":"#000000"}}}]},
{"width":83,"height":67,"data":{"name":"D31"},"encoding":{"x":{"field":"x","type":"quantitative","title":null,"scale":{"domain":[2.96,5.07],"nice":false,"zero":false},"axis":null},"y":{"field":"y","type":"quantitative","title":null,"scale":{"domain":[-0.15,3.23],"nice":false,"zero":false},"axis":{"values":[0,1,2,3],"format":".0f"}}},"layer":[{"mark":{"type":"point","clip":true,"filled":true,"color":"#3d4fae","stroke":"#33449a","strokeWidth":0.5,"size":56,"opacity":1}},{"data":{"name":"fits"},"transform":[{"filter":"datum.c=='D31'"}],"mark":{"type":"rule","clip":true,"color":"#333","strokeWidth":0.9},"encoding":{"x2":{"field":"x2","title":null},"y2":{"field":"y2","title":null}}}]},
{"width":83,"height":67,"data":{"name":"D32"},"encoding":{"x":{"field":"x","type":"quantitative","title":null,"scale":{"domain":[1.91,5.03],"nice":false,"zero":false},"axis":null},"y":{"field":"y","type":"quantitative","title":null,"scale":{"domain":[-0.15,3.23],"nice":false,"zero":false},"axis":null}},"layer":[{"mark":{"type":"point","clip":true,"filled":true,"color":"#3d4fae","stroke":"#33449a","strokeWidth":0.5,"size":56,"opacity":1}},{"data":{"name":"fits"},"transform":[{"filter":"datum.c=='D32'"}],"mark":{"type":"rule","clip":true,"color":"#333","strokeWidth":0.9},"encoding":{"x2":{"field":"x2","title":null},"y2":{"field":"y2","title":null}}}]},
{"width":83,"height":67,"view":{"stroke":"#444","strokeWidth":1.5},"data":{"values":[{"k":"a","t":"Neutralizing|antibody|AUC (log10)"}]},"mark":{"type":"text","lineBreak":"|","lineHeight":17,"fontSize":13.5,"color":"#1a1a1a","baseline":"middle","dy":-17},"encoding":{"x":{"field":"k","type":"nominal","axis":null},"y":{"field":"k","type":"nominal","axis":null},"text":{"field":"t"}}},
{"width":83,"height":67,"view":{"stroke":null},"data":{"values":[{"k":"a","r":-0.2087,"t":"-0.2087"}]},"encoding":{"x":{"field":"k","type":"nominal","axis":null,"scale":{"paddingInner":0,"paddingOuter":0}},"y":{"field":"k","type":"nominal","axis":null,"scale":{"paddingInner":0,"paddingOuter":0}}},"layer":[{"mark":"rect","encoding":{"color":{"field":"r","type":"quantitative","legend":null,"scale":{"type":"linear","domain":[-0.4,-0.2,0,0.2,0.4,0.6,0.8,1],"range":["#ffffff","#d6d6d6","#a8a8a8","#808080","#5a5a5a","#3c3c3c","#1e1e1e","#000000"]}}}},{"mark":{"type":"text","fontSize":13.5},"encoding":{"text":{"field":"t"},"color":{"condition":{"test":"datum.r > 0.3","value":"#ffffff"},"value":"#000000"}}}]},
{"width":83,"height":67,"data":{"name":"D41"},"encoding":{"x":{"field":"x","type":"quantitative","title":null,"scale":{"domain":[2.96,5.07],"nice":false,"zero":false},"axis":{"values":[3,4,5],"format":".0f"}},"y":{"field":"y","type":"quantitative","title":null,"scale":{"domain":[-0.08,3.25],"nice":false,"zero":false},"axis":{"values":[0,1,2,3],"format":".0f"}}},"layer":[{"mark":{"type":"point","clip":true,"filled":true,"color":"#3d4fae","stroke":"#33449a","strokeWidth":0.5,"size":56,"opacity":1}},{"data":{"name":"fits"},"transform":[{"filter":"datum.c=='D41'"}],"mark":{"type":"rule","clip":true,"color":"#333","strokeWidth":0.9},"encoding":{"x2":{"field":"x2","title":null},"y2":{"field":"y2","title":null}}}]},
{"width":83,"height":67,"data":{"name":"D42"},"encoding":{"x":{"field":"x","type":"quantitative","title":null,"scale":{"domain":[1.91,5.03],"nice":false,"zero":false},"axis":{"values":[2,3,4,5],"format":".0f"}},"y":{"field":"y","type":"quantitative","title":null,"scale":{"domain":[-0.08,3.25],"nice":false,"zero":false},"axis":null}},"layer":[{"mark":{"type":"point","clip":true,"filled":true,"color":"#3d4fae","stroke":"#33449a","strokeWidth":0.5,"size":56,"opacity":1}},{"data":{"name":"fits"},"transform":[{"filter":"datum.c=='D42'"}],"mark":{"type":"rule","clip":true,"color":"#333","strokeWidth":0.9},"encoding":{"x2":{"field":"x2","title":null},"y2":{"field":"y2","title":null}}}]},
{"width":83,"height":67,"data":{"name":"D43"},"encoding":{"x":{"field":"x","type":"quantitative","title":null,"scale":{"domain":[-0.07,3.2],"nice":false,"zero":false},"axis":{"values":[0,1,2,3],"format":".0f"}},"y":{"field":"y","type":"quantitative","title":null,"scale":{"domain":[-0.08,3.25],"nice":false,"zero":false},"axis":null}},"layer":[{"mark":{"type":"point","clip":true,"filled":true,"color":"#3d4fae","stroke":"#33449a","strokeWidth":0.5,"size":56,"opacity":1}},{"data":{"name":"fits"},"transform":[{"filter":"datum.c=='D43'"}],"mark":{"type":"rule","clip":true,"color":"#333","strokeWidth":0.9},"encoding":{"x2":{"field":"x2","title":null},"y2":{"field":"y2","title":null}}}]},
{"width":83,"height":67,"view":{"stroke":"#444","strokeWidth":1.5},"data":{"values":[{"k":"a","t":"SFU/million|Ratio|(log10)"}]},"mark":{"type":"text","lineBreak":"|","lineHeight":17,"fontSize":13.5,"color":"#1a1a1a","baseline":"middle","dy":-17},"encoding":{"x":{"field":"k","type":"nominal","axis":null},"y":{"field":"k","type":"nominal","axis":null},"text":{"field":"t"}}}
]}
],"spacing":6}
],"spacing":51}
],"spacing":42},
{"hconcat":[
{"width":261,"height":33,"view":{"stroke":null},"data":{"values":[{"p":1,"q":1,"t":"Correlation coefficients (R):"}]},"mark":{"type":"text","align":"right","baseline":"middle","fontSize":15,"color":"#111"},"encoding":{"x":{"field":"p","type":"quantitative","scale":{"domain":[0,1]},"axis":null},"y":{"field":"q","type":"quantitative","scale":{"domain":[0,2]},"axis":null},"text":{"field":"t"}}},
{"width":433,"height":33,"view":{"stroke":"#333","strokeWidth":1},"data":{"values":[{"k":"a","v":-0.4,"t":"-0.4"},{"k":"a","v":-0.2,"t":"-0.2"},{"k":"a","v":0,"t":"0"},{"k":"a","v":0.2,"t":"0.2"},{"k":"a","v":0.4,"t":"0.4"},{"k":"a","v":0.6,"t":"0.6"},{"k":"a","v":0.8,"t":"0.8"},{"k":"a","v":1,"t":"1"}]},"encoding":{"x":{"field":"v","type":"ordinal","axis":null,"scale":{"paddingInner":0,"paddingOuter":0}},"y":{"field":"k","type":"nominal","axis":null,"scale":{"paddingInner":0,"paddingOuter":0}}},"layer":[{"mark":"rect","encoding":{"color":{"field":"v","type":"quantitative","legend":null,"scale":{"type":"linear","domain":[-0.4,-0.2,0,0.2,0.4,0.6,0.8,1],"range":["#ffffff","#d6d6d6","#a8a8a8","#808080","#5a5a5a","#3c3c3c","#1e1e1e","#000000"]}}}},{"mark":{"type":"text","font":"'Liberation Sans Narrow', 'Liberation Sans', sans-serif","fontSize":12},"encoding":{"text":{"field":"t"},"color":{"condition":{"test":"datum.v > 0.3","value":"#ffffff"},"value":"#000000"}}}]}
],"spacing":12}
],"spacing":20}
